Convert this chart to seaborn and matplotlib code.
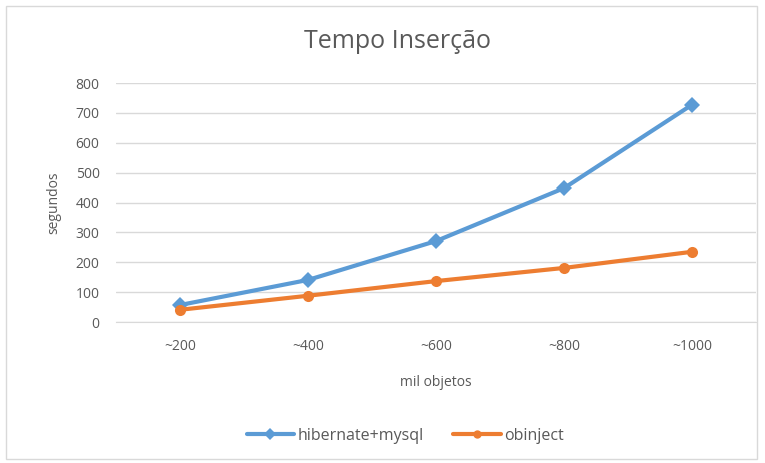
import pandas as pd
import matplotlib.pyplot as plt
import seaborn as sns
from matplotlib.patches import Rectangle

categorias = ['~200', '~400', '~600', '~800', '~1000']
hibernate_mysql = [57, 141, 271, 448, 727]
obinject = [41, 88, 137, 181, 235]

df = pd.DataFrame({'mil objetos': categorias,
                   'hibernate+mysql': hibernate_mysql,
                   'obinject': obinject})
df_melt = df.melt(id_vars='mil objetos', var_name='serie', value_name='segundos')

sns.set_style('white')
plt.rcParams['font.family'] = ['Open Sans', 'DejaVu Sans']

fig = plt.figure(figsize=(7.65, 4.63), dpi=100)
ax = fig.add_axes([0.152, 0.3045, 0.836, 0.5162])

cores = {'hibernate+mysql': '#5B9BD5', 'obinject': '#ED7D31'}
sns.lineplot(data=df_melt, x='mil objetos', y='segundos', hue='serie',
             style='serie', markers={'hibernate+mysql': 'D', 'obinject': 'o'},
             dashes=False, palette=cores, linewidth=3, markersize=8,
             markeredgewidth=0, sort=False, ax=ax)

ax.set_ylim(0, 800)
ax.set_xlim(-0.5, 4.5)
ax.set_yticks(range(0, 801, 100))
ax.grid(axis='y', color='#D9D9D9', linewidth=1)
ax.set_axisbelow(True)
for s in ['top', 'right', 'left']:
    ax.spines[s].set_visible(False)
ax.spines['bottom'].set_color('#D9D9D9')
ax.tick_params(axis='both', length=0, colors='#595959', labelsize=10)
ax.tick_params(axis='x', pad=12)
ax.tick_params(axis='y', pad=12)

ax.set_xlabel('mil objetos', fontsize=10, color='#595959', labelpad=15)
ax.set_ylabel('segundos', fontsize=10, color='#595959', labelpad=10)
fig.text(397 / 765, 1 - 42 / 463, 'Tempo Inserção', fontsize=18, color='#595959',
         ha='center', va='center')

handles, labels = ax.get_legend_handles_labels()
ax.legend(handles, labels, loc='center', bbox_to_anchor=(405 / 765, 1 - 436 / 463),
          bbox_transform=fig.transFigure, ncol=2, frameon=False, fontsize=11.5,
          labelcolor='#595959', handlelength=3, columnspacing=1.8, handletextpad=0.2,
          markerscale=0.75)

fig.patches.append(Rectangle((0.008, 0.008), 0.982, 0.98, transform=fig.transFigure,
                             fill=False, edgecolor='#D9D9D9', linewidth=1))

fig.savefig('out.png', dpi=100)
